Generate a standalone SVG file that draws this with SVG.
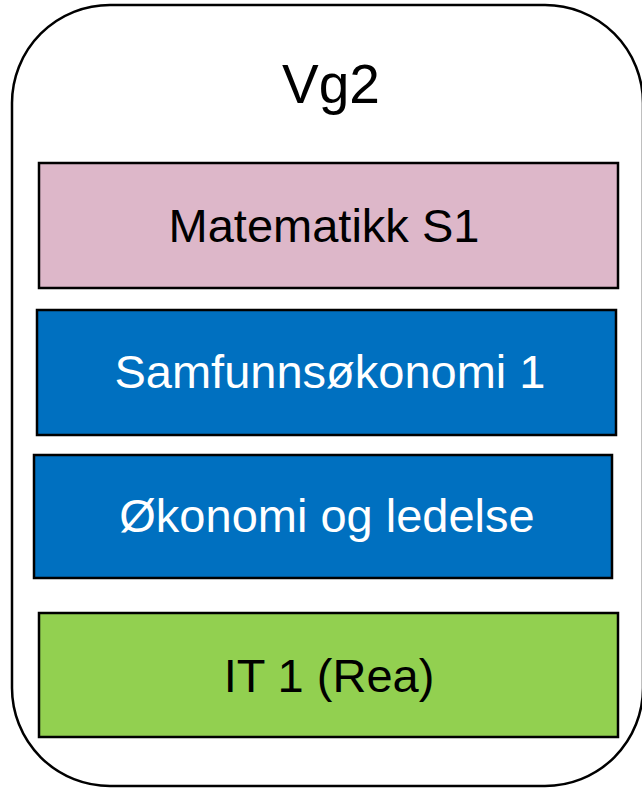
<svg xmlns="http://www.w3.org/2000/svg" width="642" height="788" viewBox="0 0 642 788">
<style>
.box{stroke:#000;stroke-width:2.5}
.t{font-family:"Liberation Sans",Arial,sans-serif;font-size:47px;text-anchor:middle}
</style>
<rect x="0" y="0" width="642" height="788" fill="#fff"/>
<g id="vg2">
<rect x="12" y="5" width="631" height="781" rx="98" ry="98" fill="#fff" stroke="#000" stroke-width="2.5"/>
<text class="t" x="331" y="103" fill="#000" style="font-size:55px">Vg2</text>
</g>
<g id="matematikk">
<rect class="box" x="39" y="163" width="579" height="125" fill="#DDB7C9"/>
<text class="t" x="324" y="242" fill="#000">Matematikk S1</text>
</g>
<g id="samfunnsokonomi">
<rect class="box" x="37" y="310" width="579" height="125" fill="#0070C0"/>
<text class="t" x="330" y="388" fill="#fff">Samfunnsøkonomi 1</text>
</g>
<g id="okonomi">
<rect class="box" x="34" y="455" width="578" height="123" fill="#0070C0"/>
<text class="t" x="327" y="532" fill="#fff">Økonomi og ledelse</text>
</g>
<g id="it1">
<rect class="box" x="39" y="613" width="579" height="124" fill="#92D050"/>
<text class="t" x="329" y="692" fill="#000">IT 1 (Rea)</text>
</g>
<g id="connectors"/>
</svg>
